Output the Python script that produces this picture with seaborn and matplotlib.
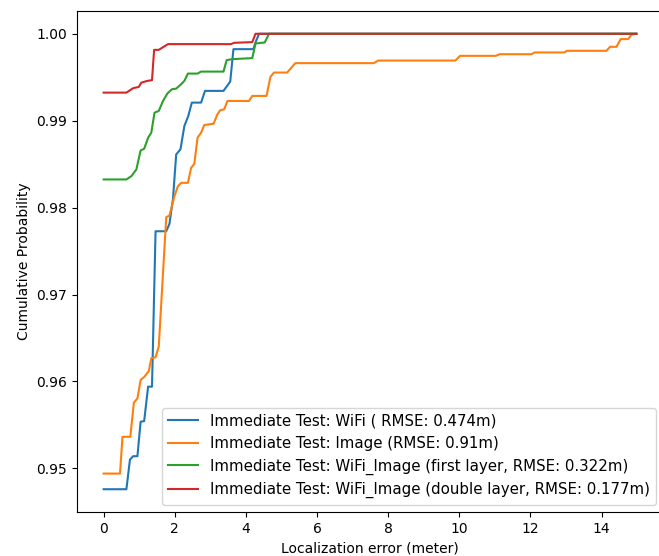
import matplotlib
matplotlib.use("Agg")
import matplotlib.pyplot as plt
import seaborn as sns
import pandas as pd

labels = [
    "Immediate Test: WiFi ( RMSE: 0.474m)",
    "Immediate Test: Image (RMSE: 0.91m)",
    "Immediate Test: WiFi_Image (first layer, RMSE: 0.322m)",
    "Immediate Test: WiFi_Image (double layer, RMSE: 0.177m)",
]

wifi_x = [0.0, 0.64, 0.74, 0.83, 0.95, 1.04, 1.14, 1.25, 1.36, 1.46, 1.76, 1.85, 1.95, 2.04,
          2.16, 2.27, 2.38, 2.48, 2.74, 2.85, 3.37, 3.56, 3.65, 4.21, 4.27, 4.37, 14.98]
wifi_y = [0.94760, 0.94760, 0.95101, 0.95140, 0.95140, 0.95536, 0.95544, 0.95940, 0.95940,
          0.97728, 0.97728, 0.97812, 0.98100, 0.98612, 0.98670, 0.98939, 0.99054, 0.99208,
          0.99208, 0.99343, 0.99343, 0.99450, 0.99823, 0.99823, 0.99900, 1.0, 1.0]

image_x = [0.0, 0.46, 0.53, 0.75, 0.85, 0.95, 1.04, 1.15, 1.27, 1.34, 1.46, 1.55, 1.76, 1.85,
           1.99, 2.09, 2.18, 2.37, 2.46, 2.55, 2.64, 2.74, 2.83, 3.09, 3.20, 3.28, 3.39, 3.48,
           4.09, 4.18, 4.58, 4.69, 4.79, 5.16, 5.39, 7.60, 7.72, 9.89, 10.02, 11.03, 11.14,
           12.03, 12.12, 12.96, 13.03, 14.14, 14.24, 14.42, 14.54, 14.75, 14.84, 14.98]
image_y = [0.94940, 0.94940, 0.95363, 0.95363, 0.95756, 0.95805, 0.96017, 0.96055, 0.96121,
           0.96267, 0.96278, 0.96401, 0.97889, 0.97909, 0.98131, 0.98247, 0.98285, 0.98285,
           0.98458, 0.98504, 0.98804, 0.98862, 0.98950, 0.98965, 0.99074, 0.99120, 0.99131,
           0.99227, 0.99227, 0.99285, 0.99285, 0.99504, 0.99554, 0.99554, 0.99662, 0.99662,
           0.99692, 0.99692, 0.99746, 0.99746, 0.99765, 0.99765, 0.99785, 0.99785, 0.99804,
           0.99804, 0.99850, 0.99850, 0.99939, 0.99939, 0.99988, 1.0]

first_x = [0.0, 0.64, 0.78, 0.92, 1.04, 1.14, 1.25, 1.34, 1.43, 1.55, 1.67, 1.79, 1.92, 2.04,
           2.18, 2.27, 2.37, 2.64, 2.74, 3.37, 3.46, 3.62, 4.18, 4.27, 4.53, 4.65, 14.98]
first_y = [0.98324, 0.98324, 0.98362, 0.98439, 0.98658, 0.98677, 0.98804, 0.98862, 0.99092,
           0.99112, 0.99227, 0.99311, 0.99362, 0.99369, 0.99420, 0.99458, 0.99542, 0.99542,
           0.99565, 0.99565, 0.99697, 0.99708, 0.99720, 0.99888, 0.99900, 1.0, 1.0]

double_x = [0.0, 0.64, 0.83, 0.99, 1.06, 1.23, 1.36, 1.42, 1.55, 1.81, 3.58, 3.67, 4.18, 4.27, 14.98]
double_y = [0.99323, 0.99323, 0.99374, 0.99389, 0.99438, 0.99458, 0.99466, 0.99815, 0.99815,
            0.99881, 0.99881, 0.99896, 0.99904, 1.0, 1.0]

series = [(wifi_x, wifi_y), (image_x, image_y), (first_x, first_y), (double_x, double_y)]
colors = ["#1f77b4", "#ff7f0e", "#2ca02c", "#d62728"]

fig = plt.figure(figsize=(6.59, 5.56), dpi=100)
ax = fig.add_axes([77 / 659, 1 - 512 / 556, (663 - 77) / 659, (512 - 11) / 556])

for (xs, ys), lab, c in zip(series, labels, colors):
    df = pd.DataFrame({"x": xs, "y": ys})
    sns.lineplot(data=df, x="x", y="y", ax=ax, label=lab, color=c,
                 estimator=None, sort=False, linewidth=1.5)

ax.set_xlabel("Localization error (meter)")
ax.set_ylabel("Cumulative Probability")
ax.set_xticks([0, 2, 4, 6, 8, 10, 12, 14])
ax.set_yticks([0.95, 0.96, 0.97, 0.98, 0.99, 1.00])
ax.legend(loc="lower right", fontsize=10.8)

fig.savefig("out.png", dpi=100)
